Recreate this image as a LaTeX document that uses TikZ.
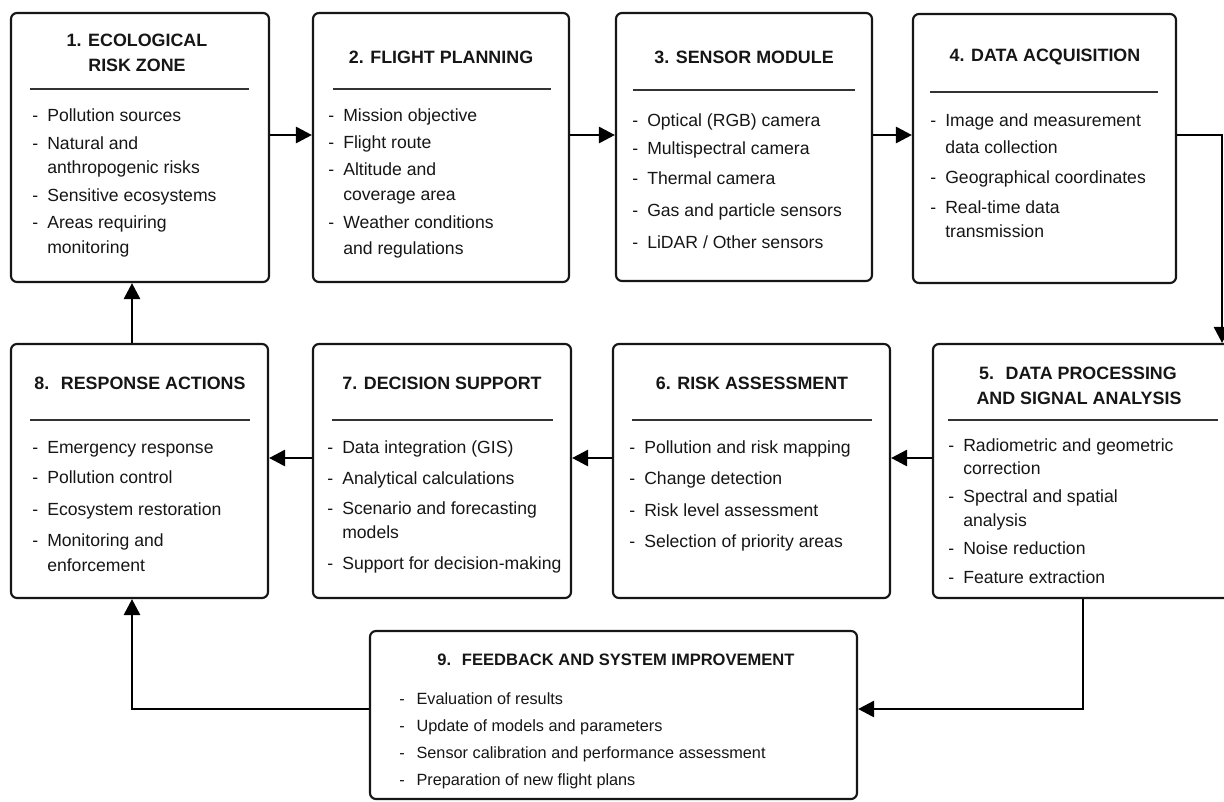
\documentclass[tikz,border=0pt]{standalone}
\usepackage{fontspec}
\setmainfont{Liberation Sans}
\usetikzlibrary{arrows.meta,fit}
\definecolor{ink}{HTML}{161616}
\definecolor{sep}{HTML}{333333}
\tikzset{
  box/.style={draw=ink, line width=1.6pt, rounded corners=4.5pt, inner sep=0pt, fill=white},
  ttl/.style={anchor=base, inner sep=0pt, text=ink, font=\fontsize{13.4}{15}\selectfont\bfseries},
  ttlnine/.style={anchor=base, inner sep=0pt, text=ink, font=\fontsize{12.4}{14}\selectfont\bfseries},
  itm/.style={anchor=base west, inner sep=0pt, text=ink, font=\fontsize{13.2}{15}\selectfont},
  itmnine/.style={anchor=base west, inner sep=0pt, text=ink, font=\fontsize{12.2}{14}\selectfont},
  sepline/.style={draw=sep, line width=1pt},
  arr/.style={draw=black, line width=2.1pt, -{Triangle[length=12pt,width=12pt]}},
}
\newcommand\itm[4]{\node[itm] (#1) at (#2,#3) {\makebox[11.25pt][l]{-}#4};}
\newcommand\cnt[4]{\node[itm] (#1) at (#2,#3) {\hspace*{11.25pt}#4};}
\newcommand\itmn[4]{\node[itmnine] (#1) at (#2,#3) {\makebox[13pt][l]{-}#4};}
\begin{document}
\begin{tikzpicture}[x=0.75pt,y=-0.75pt]
\useasboundingbox (0,0) rectangle (1224,801);
\clip (0,0) rectangle (1224,801);
\fill[white] (0,0) rectangle (1224,801);
% boxes
\node[box, fit={(11,13) (269,282)}] (b1) {};
\node[box, fit={(313,13) (569,282)}] (b2) {};
\node[box, fit={(616,13) (872,281)}] (b3) {};
\node[box, fit={(913,14) (1176,283)}] (b4) {};
\node[box, fit={(933,344) (1240,598)}] (b5) {};
\node[box, fit={(613,344) (890,598)}] (b6) {};
\node[box, fit={(313,344) (571,598)}] (b7) {};
\node[box, fit={(11,344) (268,598)}] (b8) {};
\node[box, fit={(370,631) (857,799)}] (b9) {};
% separators
\coordinate (s1a) at (30,89);  \coordinate (s1b) at (249,89);
\coordinate (s2a) at (333,89); \coordinate (s2b) at (551,89);
\coordinate (s3a) at (633,90); \coordinate (s3b) at (855,90);
\coordinate (s4a) at (930,92); \coordinate (s4b) at (1158,92);
\coordinate (s5a) at (948,420); \coordinate (s5b) at (1218,420);
\coordinate (s6a) at (632,420); \coordinate (s6b) at (872,420);
\coordinate (s7a) at (332,420); \coordinate (s7b) at (553,420);
\coordinate (s8a) at (30,420); \coordinate (s8b) at (250,420);
\foreach \s in {1,...,8} {\draw[sepline] (s\s a) -- (s\s b);}
% titles
\node[ttl] (t1a) at (137,46.5) {1. ECOLOGICAL};
\node[ttl] (t1b) at (137,71.5) {RISK ZONE};
\node[ttl] (t2) at (441,63) {2. FLIGHT PLANNING};
\node[ttl] (t3) at (744,63) {3. SENSOR MODULE};
\node[ttl] (t4) at (1045,61.5) {4. DATA ACQUISITION};
\node[ttl] (t5a) at (1078,379.5) {5.~ DATA PROCESSING};
\node[ttl] (t5b) at (1079,404.5) {AND SIGNAL ANALYSIS};
\node[ttl] (t6) at (752,389.5) {6. RISK ASSESSMENT};
\node[ttl] (t7) at (442,389.5) {7. DECISION SUPPORT};
\node[ttl] (t8) at (140,389.5) {8.~ RESPONSE ACTIONS};
\node[ttlnine] (t9) at (616,665) {9.~ FEEDBACK AND SYSTEM IMPROVEMENT};
% box 1 items
\itm{i1a}{32}{121}{Pollution sources}
\itm{i1b}{32}{149}{Natural and}
\cnt{i1c}{32}{173}{anthropogenic risks}
\itm{i1d}{32}{201}{Sensitive ecosystems}
\itm{i1e}{32}{228}{Areas requiring}
\cnt{i1f}{32}{253}{monitoring}
% box 2
\itm{i2a}{328}{121}{Mission objective}
\itm{i2b}{328}{148}{Flight route}
\itm{i2c}{328}{175}{Altitude and}
\cnt{i2d}{328}{200}{coverage area}
\itm{i2e}{328}{228}{Weather conditions}
\cnt{i2f}{328}{254}{and regulations}
% box 3
\itm{i3a}{632}{126}{Optical (RGB) camera}
\itm{i3b}{632}{154}{Multispectral camera}
\itm{i3c}{632}{184}{Thermal camera}
\itm{i3d}{632}{216}{Gas and particle sensors}
\itm{i3e}{632}{248}{LiDAR / Other sensors}
% box 4
\itm{i4a}{930}{126}{Image and measurement}
\cnt{i4b}{930}{153}{data collection}
\itm{i4c}{930}{183}{Geographical coordinates}
\itm{i4d}{930}{213}{Real-time data}
\cnt{i4e}{930}{237}{transmission}
% box 5
\itm{i5a}{948}{451}{Radiometric and geometric}
\cnt{i5b}{948}{474}{correction}
\itm{i5c}{948}{502}{Spectral and spatial}
\cnt{i5d}{948}{526}{analysis}
\itm{i5e}{948}{554}{Noise reduction}
\itm{i5f}{948}{583}{Feature extraction}
% box 6
\itm{i6a}{629}{453}{Pollution and risk mapping}
\itm{i6b}{629}{484}{Change detection}
\itm{i6c}{629}{516}{Risk level assessment}
\itm{i6d}{629}{547}{Selection of priority areas}
% box 7
\itm{i7a}{327}{453}{Data integration (GIS)}
\itm{i7b}{327}{484}{Analytical calculations}
\itm{i7c}{327}{514}{Scenario and forecasting}
\cnt{i7d}{327}{538}{models}
\itm{i7e}{327}{569}{Support for decision-making}
% box 8
\itm{i8a}{32}{453}{Emergency response}
\itm{i8b}{32}{483}{Pollution control}
\itm{i8c}{32}{515}{Ecosystem restoration}
\itm{i8d}{32}{546}{Monitoring and}
\cnt{i8e}{32}{571}{enforcement}
% box 9
\itmn{i9a}{399}{704}{Evaluation of results}
\itmn{i9b}{399}{731}{Update of models and parameters}
\itmn{i9c}{399}{758}{Sensor calibration and performance assessment}
\itmn{i9d}{399}{785}{Preparation of new flight plans}
% connectors
\coordinate (r1) at (0,135);
\coordinate (r2) at (0,458);
\coordinate (r3) at (0,709);
\coordinate (c1) at (132,0);
\coordinate (k45) at (1222,0);
\coordinate (c59) at (1083,0);
\draw[arr] (b1.east |- r1) -- (b2.west |- r1);
\draw[arr] (b2.east |- r1) -- (b3.west |- r1);
\draw[arr] (b3.east |- r1) -- (b4.west |- r1);
\draw[arr] (b4.east |- r1) -| (k45 |- b5.north);
\draw[arr] (b5.west |- r2) -- (b6.east |- r2);
\draw[arr] (b6.west |- r2) -- (b7.east |- r2);
\draw[arr] (b7.west |- r2) -- (b8.east |- r2);
\draw[arr] (b8.north -| c1) -- (b1.south -| c1);
\draw[arr] (b5.south -| c59) |- (b9.east |- r3);
\draw[arr] (b9.west |- r3) -| (b8.south -| c1);
\end{tikzpicture}
\end{document}
